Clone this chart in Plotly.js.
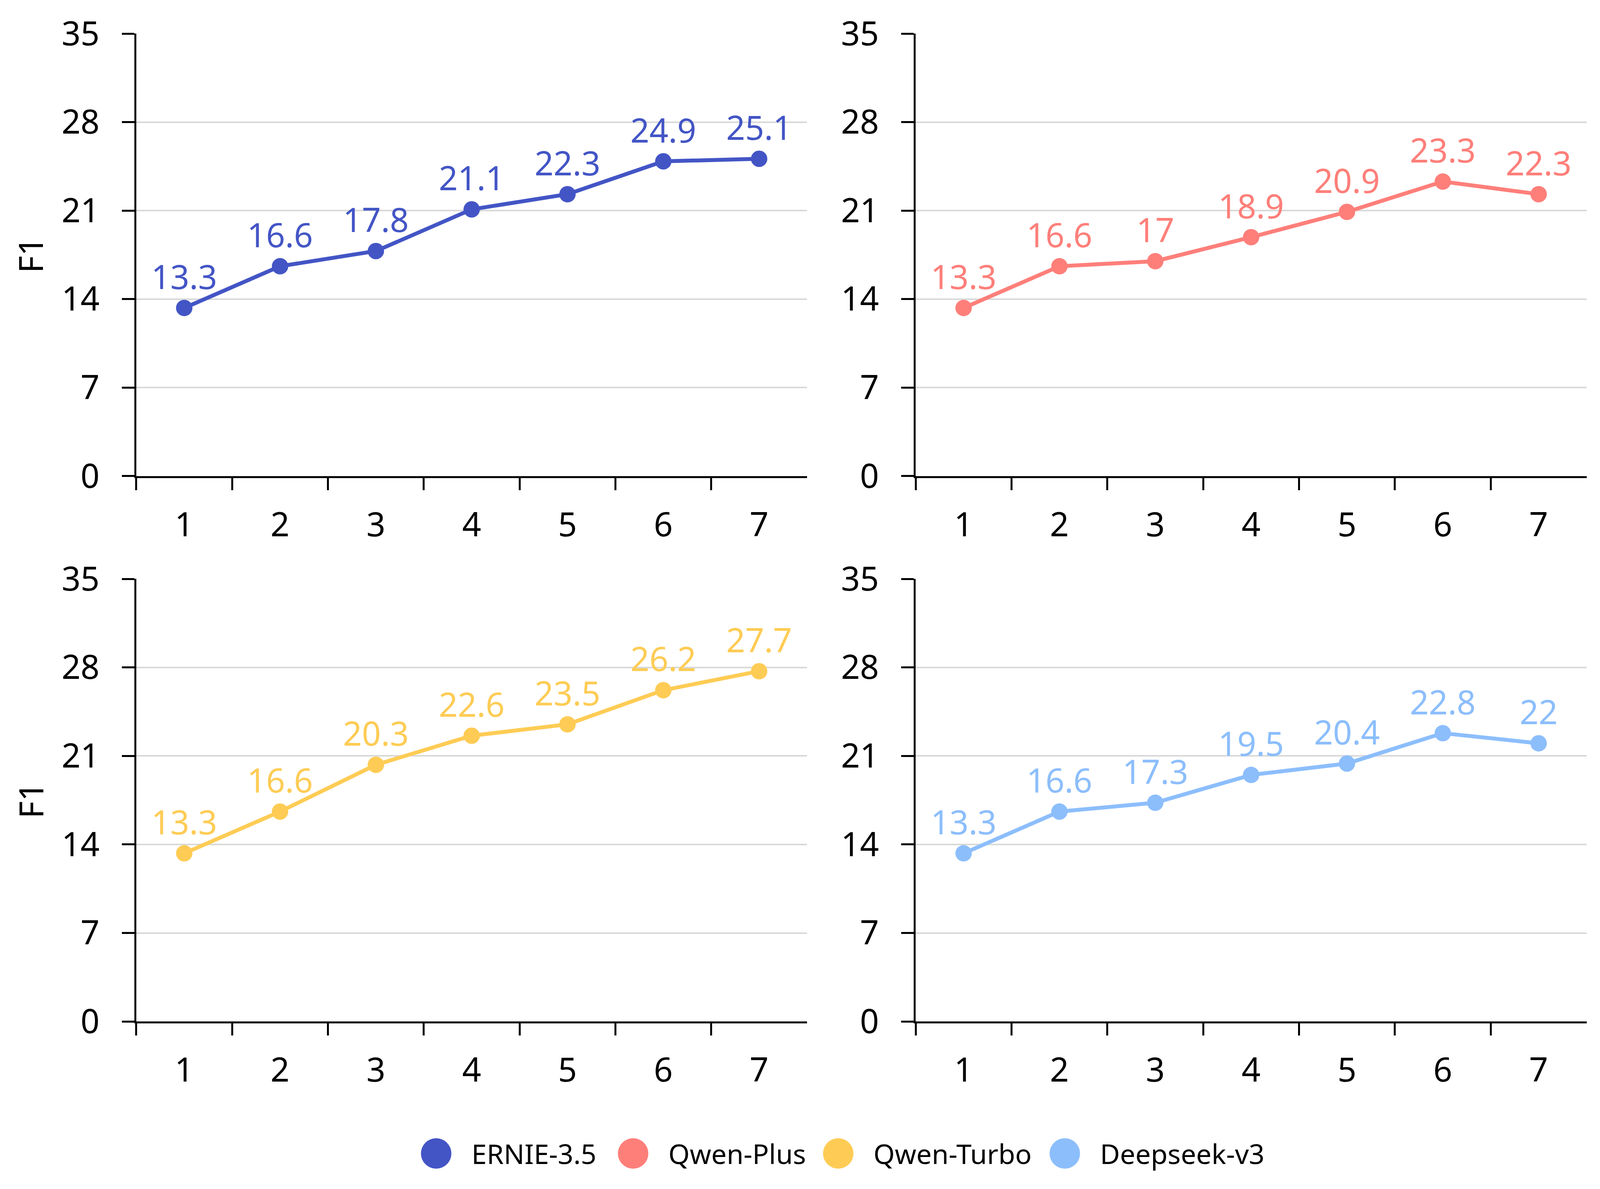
<!DOCTYPE html>
<html>
<head>
<meta charset="utf-8">
<script src="https://cdn.plot.ly/plotly-3.0.1.min.js"></script>
<style>
  html, body { margin: 0; padding: 0; background: #fff; overflow: hidden; }
  #chart { width: 100vw; height: 100vh; }
</style>
</head>
<body>
<div id="chart"></div>
<script>
// step index on the x axis, F1 per model
var steps = [1, 2, 3, 4, 5, 6, 7];
var models = ['ERNIE-3.5', 'Qwen-Plus', 'Qwen-Turbo', 'Deepseek-v3'];
var ernie = [13.3, 16.6, 17.8, 21.1, 22.3, 24.9, 25.1];
var qwenPlus = [13.3, 16.6, 17, 18.9, 20.9, 23.3, 22.3];
var qwenTurbo = [13.3, 16.6, 20.3, 22.6, 23.5, 26.2, 27.7];
var deepseek = [13.3, 16.6, 17.3, 19.5, 20.4, 22.8, 22];
var yTicks = [0, 7, 14, 21, 28, 35];
var yLabel = 'F1';

// the drawing fills the window (the window may be narrower than 4625)
var W = window.innerWidth || 4625, H = window.innerHeight || 3044;
var colors = ['#4355c5', '#fe7f7a', '#fecc55', '#8cbefc'];
var series = [ernie, qwenPlus, qwenTurbo, deepseek];
var FONT = '"Noto Sans", "Open Sans", sans-serif';
var TICK_SIZE = 85;

// panel placement (paper fractions), order: top-left, top-right, bottom-left, bottom-right
var xDomains = [[0.0852, 0.5044], [0.5723, 0.9916], [0.0852, 0.5044], [0.5723, 0.9916]];
var yDomains = [[0.5996, 0.9717], [0.5996, 0.9717], [0.1409, 0.5131], [0.1409, 0.5131]];

// category boundaries get the tick marks, labels sit at the centres
var boundaries = steps.map(function (s) { return s - 0.5; });

var data = [];
var layout = {
    width: W,
    height: H,
    margin: {l: 0, r: 0, t: 0, b: 0},
    paper_bgcolor: '#fff',
    plot_bgcolor: '#fff',
    font: {family: FONT, size: TICK_SIZE, color: '#000'},
    showlegend: false,
    annotations: [],
    shapes: []
};

series.forEach(function (vals, i) {
    var n = i === 0 ? '' : String(i + 1);
    data.push({
        type: 'scatter',
        mode: 'lines+markers+text',
        name: models[i],
        x: steps,
        y: vals,
        xaxis: 'x' + n,
        yaxis: 'y' + n,
        text: vals.map(String),
        textposition: 'top center',
        textfont: {family: FONT, size: TICK_SIZE, color: colors[i]},
        line: {color: colors[i], width: 10},
        marker: {color: colors[i], size: 42},
        cliponaxis: false,
        hoverinfo: 'skip'
    });

    layout['xaxis' + n] = {
        domain: xDomains[i],
        anchor: 'y' + n,
        range: [0.5, 7.5],
        tickmode: 'array',
        tickvals: steps,
        ticktext: steps.map(String),
        ticks: 'outside',
        ticklen: 31,
        tickcolor: 'rgba(0,0,0,0)',
        tickfont: {family: FONT, size: TICK_SIZE, color: '#000'},
        ticklabelstandoff: 16,
        minor: {
            tickmode: 'array',
            tickvals: boundaries,
            ticks: 'outside',
            ticklen: 31,
            tickwidth: 5,
            tickcolor: '#000',
            showgrid: false
        },
        showline: true,
        linecolor: '#000',
        linewidth: 5,
        showgrid: false,
        zeroline: false,
        fixedrange: true
    };

    layout['yaxis' + n] = {
        domain: yDomains[i],
        anchor: 'x' + n,
        range: [0, 35],
        tickmode: 'array',
        tickvals: yTicks,
        ticks: 'outside',
        ticklen: 32,
        tickwidth: 5,
        tickcolor: '#000',
        tickfont: {family: FONT, size: TICK_SIZE, color: '#000'},
        ticklabelstandoff: 40,
        showline: true,
        linecolor: '#000',
        linewidth: 5,
        showgrid: true,
        gridcolor: '#d9d9d9',
        gridwidth: 4,
        zeroline: false,
        fixedrange: true
    };
});

// "F1" only beside the left column
[0, 2].forEach(function (i) {
    var d = yDomains[i];
    layout.annotations.push({
        xref: 'paper', yref: 'paper',
        x: 0.019, y: (d[0] + d[1]) / 2,
        xanchor: 'center', yanchor: 'middle',
        text: yLabel,
        textangle: -90,
        showarrow: false,
        font: {family: FONT, size: TICK_SIZE, color: '#000'}
    });
});

// legend drawn by hand so the dots can be as big as in the original
var legendDotX = [0.2726, 0.3957, 0.5239, 0.6655];   // dot centres, fraction of width
var legendY = 0.0299;                                  // fraction of height from the bottom
var dotR = 39, legendGap = 88;                         // px
models.forEach(function (m, i) {
    var cx = legendDotX[i];
    layout.shapes.push({
        type: 'circle',
        xref: 'paper', yref: 'paper',
        x0: cx - dotR / W, x1: cx + dotR / W,
        y0: legendY - dotR / H, y1: legendY + dotR / H,
        fillcolor: colors[i],
        line: {width: 0}
    });
    layout.annotations.push({
        xref: 'paper', yref: 'paper',
        x: cx + legendGap / W, y: legendY,
        xanchor: 'left', yanchor: 'middle',
        text: m,
        showarrow: false,
        font: {family: FONT, size: 70, color: '#000'}
    });
});

Plotly.newPlot('chart', data, layout, {displayModeBar: false, staticPlot: true});
</script>
</body>
</html>
